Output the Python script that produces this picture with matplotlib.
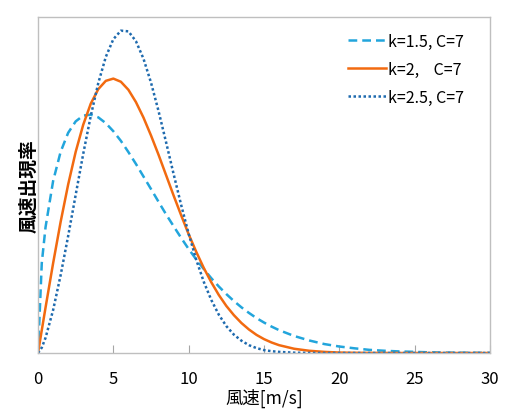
import matplotlib
matplotlib.use("Agg")
import matplotlib.pyplot as plt

plt.rcParams['font.family'] = ['Noto Sans CJK JP', 'DejaVu Sans']

# ---- data (wind speed vs occurrence) ----
speed = [0, 0.25, 0.5, 1, 1.5, 2, 2.5, 3, 3.5, 4, 4.5, 5, 5.5, 6, 6.5, 7,
         7.5, 8, 8.5, 9, 9.5, 10, 10.5, 11, 11.5, 12, 12.5, 13, 13.5, 14,
         14.5, 15, 15.5, 16, 17, 18, 19, 20, 21, 22, 23, 24, 25, 26, 27,
         28, 29, 30]

k15 = [0, 0.0402, 0.0562, 0.0767, 0.0898, 0.0983, 0.1034, 0.1060, 0.1064,
       0.1052, 0.1026, 0.0990, 0.0947, 0.0897, 0.0844, 0.0788, 0.0732,
       0.0675, 0.0619, 0.0566, 0.0514, 0.0464, 0.0418, 0.0375, 0.0334,
       0.0297, 0.0263, 0.0232, 0.0204, 0.0179, 0.0156, 0.0136, 0.0118,
       0.0102, 0.0076, 0.0056, 0.0040, 0.0029, 0.0021, 0.0014, 0.0010,
       0.0007, 0.0005, 0.0003, 0.0002, 0.00014, 0.0001, 0.00006]

k20 = [0, 0.0102, 0.0203, 0.0400, 0.0585, 0.0752, 0.0898, 0.1019, 0.1113,
       0.1178, 0.1215, 0.1225, 0.1211, 0.1175, 0.1120, 0.1051, 0.0971,
       0.0885, 0.0794, 0.0703, 0.0615, 0.0530, 0.0452, 0.0380, 0.0316,
       0.0259, 0.0210, 0.0169, 0.0134, 0.0105, 0.0081, 0.0062, 0.0047,
       0.0035, 0.0019, 0.0010, 0.0005, 0.0002, 0.0001, 0.00005, 0.00002,
       0, 0, 0, 0, 0, 0, 0]

k25 = [0, 0.0024, 0.0068, 0.0191, 0.0347, 0.0522, 0.0706, 0.0889, 0.1058,
       0.1205, 0.1322, 0.1401, 0.1439, 0.1436, 0.1392, 0.1314, 0.1207,
       0.1080, 0.0941, 0.0799, 0.0661, 0.0532, 0.0417, 0.0318, 0.0237,
       0.0171, 0.0120, 0.0082, 0.0055, 0.0035, 0.0022, 0.0013, 0.0008,
       0.0005, 0.00014, 0.00004, 0.00001, 0, 0, 0, 0, 0, 0, 0, 0, 0, 0, 0]

labels = ['k=1.5, C=7', 'k=2,    C=7', 'k=2.5, C=7']
xticks = [0, 5, 10, 15, 20, 25, 30]

# ---- figure ----
fig = plt.figure(figsize=(5.13, 4.14), dpi=100)
ax = fig.add_axes([0.0741, 0.1449, 0.8811, 0.8116])

ax.plot(speed, k15, color='#22A5DC', lw=1.8, ls=(0, (3.5, 2)), label=labels[0])
ax.plot(speed, k20, color='#F26A10', lw=1.8, ls='-', label=labels[1])
ax.plot(speed, k25, color='#1E6AAE', lw=1.8, ls=(0, (1, 1)), label=labels[2])

ax.set_xlim(0, 30)
ax.set_ylim(0, 0.15)
ax.set_xticks(xticks)
ax.set_yticks([])
ax.tick_params(axis='x', direction='in', length=6, color='#A6A6A6',
               labelsize=12, pad=12)

for sp in ax.spines.values():
    sp.set_color('#BFBFBF')
    sp.set_linewidth(1.0)

ax.set_xlabel('風速[m/s]', fontsize=12.5, labelpad=1)
ax.set_ylabel('風速出現率', fontsize=13.5, fontweight='bold', labelpad=0)

ax.legend(loc='upper right', bbox_to_anchor=(0.975, 0.995), frameon=False,
          fontsize=11.5, handlelength=2.4, handletextpad=0.15,
          labelspacing=0.68)

fig.savefig('out.png', dpi=100)
